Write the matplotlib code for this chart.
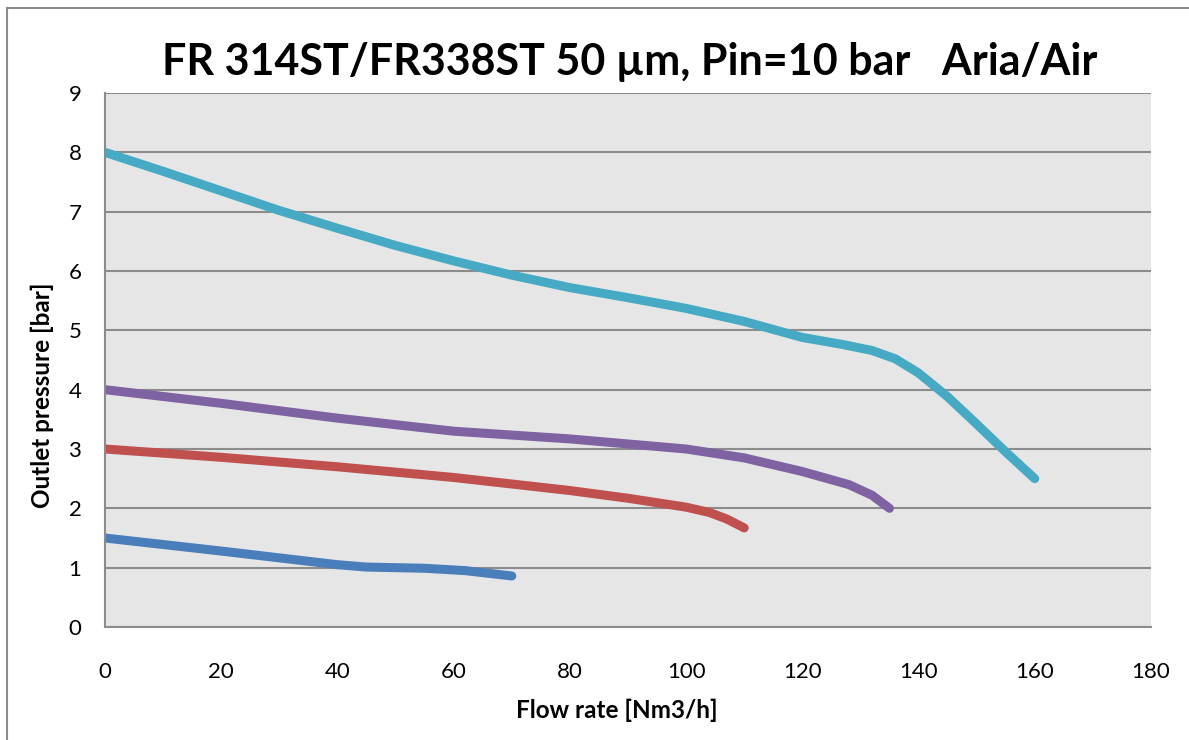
import matplotlib
matplotlib.use("Agg")
import matplotlib.pyplot as plt
from matplotlib.lines import Line2D

plt.rcParams['font.family'] = ['Lato', 'DejaVu Sans']

# flow rate [Nm3/h] / outlet pressure [bar]
x_cyan = [0, 10, 20, 30, 40, 50, 60, 70, 80, 90, 100, 110, 120, 127, 132, 136, 140, 145, 150, 155, 160]
y_cyan = [8.0, 7.68, 7.35, 7.02, 6.72, 6.43, 6.17, 5.93, 5.72, 5.55, 5.37, 5.15, 4.88, 4.76, 4.66, 4.52, 4.28, 3.88, 3.42, 2.95, 2.5]

x_purple = [0, 20, 40, 60, 80, 100, 110, 120, 128, 132, 135]
y_purple = [4.0, 3.77, 3.52, 3.3, 3.17, 3.0, 2.85, 2.62, 2.4, 2.22, 2.0]

x_red = [0, 20, 40, 60, 80, 90, 100, 104, 107, 110]
y_red = [3.0, 2.86, 2.7, 2.52, 2.3, 2.17, 2.02, 1.93, 1.82, 1.67]

x_blue = [0, 20, 40, 45, 55, 62, 70]
y_blue = [1.5, 1.28, 1.05, 1.01, 0.99, 0.95, 0.86]

series = [
    (x_cyan, y_cyan, '#46aac5'),
    (x_purple, y_purple, '#7f62a2'),
    (x_red, y_red, '#c0504d'),
    (x_blue, y_blue, '#4a7ebb'),
]

W, H = 1189, 740
fig = plt.figure(figsize=(W / 100, H / 100), dpi=100)
ax = fig.add_axes([105 / W, 1 - 627 / H, (1151 - 105) / W, (627 - 93) / H])
ax.set_facecolor('#e6e6e6')

for xs, ys, c in series:
    ax.plot(xs, ys, color=c, lw=6.5, solid_capstyle='round', solid_joinstyle='round')

ax.set_xlim(0, 180)
ax.set_ylim(0, 9)
ax.set_xticks(range(0, 181, 20))
ax.set_yticks(range(0, 10))
ax.yaxis.grid(True, color='#8c8c8c', lw=1.5)
ax.set_axisbelow(True)
for s in ['top', 'right']:
    ax.spines[s].set_visible(False)
for s in ['left', 'bottom']:
    ax.spines[s].set_color('#8c8c8c')
    ax.spines[s].set_linewidth(1.5)
ax.tick_params(length=0, labelsize=16)
ax.tick_params(axis='x', pad=25)
ax.tick_params(axis='y', pad=17)

ax.set_xlabel('Flow rate [Nm3/h]', fontsize=17.5, fontweight='bold')
ax.xaxis.set_label_coords((617 - 105) / (1151 - 105), -(710 - 627) / (627 - 93))
ax.xaxis.label.set_va('center')
ax.set_ylabel('Outlet pressure [bar]', fontsize=17.5, fontweight='bold')
ax.yaxis.set_label_coords(-(105 - 42) / (1151 - 105), (627 - 395) / (627 - 93))
ax.yaxis.label.set_va('center')

fig.text(630 / W, 1 - 62 / H, 'FR 314ST/FR338ST 50 µm, Pin=10 bar   Aria/Air',
         ha='center', va='center', fontsize=31, fontweight='bold')

# outer chart frame
fig.add_artist(Line2D([7 / W, 1], [1 - 8 / H, 1 - 8 / H], color='#8c8c8c', lw=1.5, transform=fig.transFigure))
fig.add_artist(Line2D([7 / W, 7 / W], [0, 1 - 8 / H], color='#8c8c8c', lw=1.5, transform=fig.transFigure))

fig.savefig('out.png', dpi=100)
